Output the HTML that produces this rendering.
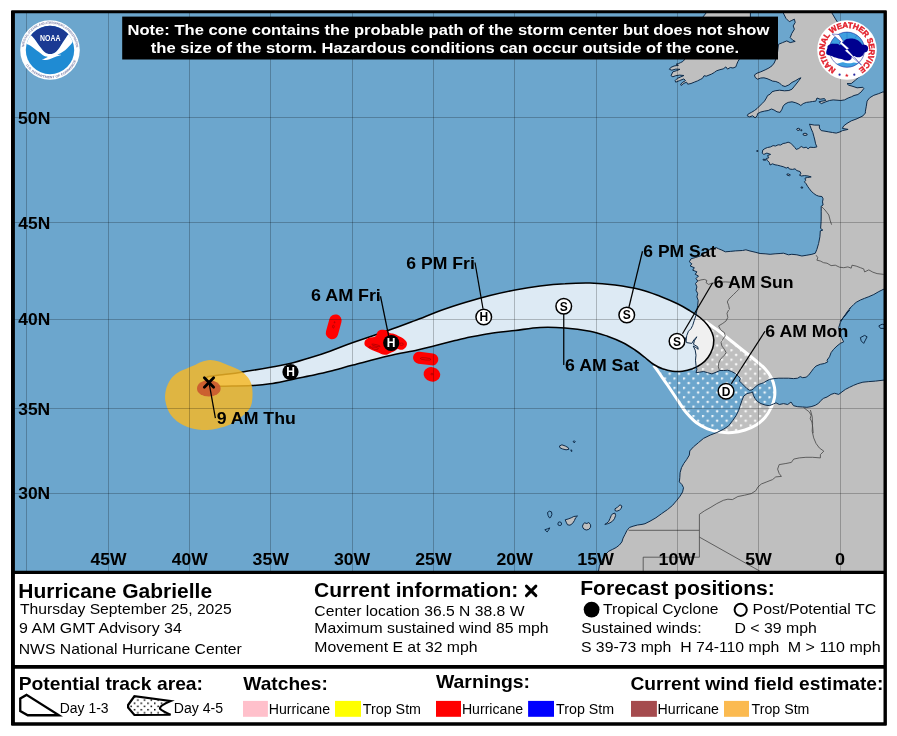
<!DOCTYPE html>
<html><head><meta charset="utf-8"><title>Hurricane Gabrielle</title>
<style>
html,body{margin:0;padding:0;background:#fff;}
body{width:897px;height:736px;overflow:hidden;font-family:"Liberation Sans",sans-serif;}
svg{display:block;font-family:"Liberation Sans",sans-serif;}
.b{font-weight:bold}
svg{will-change:transform;}
</style></head><body>
<svg width="897" height="736" viewBox="0 0 897 736">
<defs>
<clipPath id="mapclip"><rect x="13" y="12" width="872" height="560.5"/></clipPath>
<pattern id="dots" x="673.4" y="377.4" width="9.5" height="9.4" patternUnits="userSpaceOnUse"><circle cx="1" cy="1" r="1.35" fill="#fff" fill-opacity="0.85"/><circle cx="5.75" cy="5.7" r="1.35" fill="#fff" fill-opacity="0.85"/></pattern>
</defs>
<rect x="0" y="0" width="897" height="736" fill="#fff"/>
<g clip-path="url(#mapclip)">
<rect x="13" y="12" width="872" height="560" fill="#6ca6cd"/>
<path d="M706.5 12.5L695.2 26.7L688.5 43.4L684.4 59.8L682.8 61.5L680.6 62.6L678.4 63.6L676.2 64.2L678.4 65.3L674.0 66.0L670.7 67.5L669.4 69.3L671.8 70.2L675.7 69.1L680.0 69.3L676.2 70.8L672.9 71.8L671.8 74.0L671.0 75.7L672.9 76.8L675.7 75.7L679.5 75.1L683.9 75.5L680.6 77.0L677.3 78.4L675.1 80.6L675.7 82.2L679.5 80.6L683.9 78.9L685.5 80.6L682.8 82.2L680.6 84.2L681.1 85.5L683.9 83.3L686.6 82.2L687.7 84.2L691.0 83.5L694.2 82.2L697.5 80.9L700.2 79.5L702.4 78.4L704.1 75.7L706.2 76.2L709.0 75.1L711.7 74.0L714.4 72.4L716.6 70.8L719.9 69.7L723.2 68.9L725.9 66.9L727.5 69.1L730.3 67.5L733.0 68.0L735.8 66.9L736.8 64.2L737.9 61.5L739.0 59.8L742.0 51.8L747.0 35.1L750.4 20.0L750.4 12.5Z M782.6 11.7L786.0 18.4L789.3 21.7L791.8 20.4L794.4 19.2L795.2 22.5L793.2 25.9L794.4 29.2L791.8 33.4L790.2 37.6L792.7 40.1L795.2 41.4L790.2 42.6L786.8 40.9L782.6 42.6L778.5 44.3L777.6 51.8L775.5 59.9L774.2 63.0L772.0 65.8L768.9 68.0L765.1 69.9L760.8 71.8L757.0 73.2L754.5 74.9L755.1 77.4L757.6 79.2L760.8 78.0L763.9 77.8L767.0 78.6L770.1 79.9L772.6 81.1L775.8 81.5L779.5 83.0L782.0 85.5L785.1 86.5L788.9 84.9L792.0 82.4L795.8 80.5L798.9 78.6L801.0 77.8L798.9 80.5L797.0 83.0L794.5 86.1L792.0 89.2L788.9 90.5L784.5 90.8L779.5 90.2L775.1 90.8L772.0 91.8L770.1 94.2L767.6 95.5L766.4 98.0L764.5 101.1L762.0 103.6L759.5 106.1L757.0 108.6L754.5 110.5L751.4 112.4L748.2 114.0L747.2 115.8L749.5 116.8L752.6 115.8L755.1 117.8L757.0 116.1L757.6 113.6L760.8 112.0L764.5 111.1L768.2 110.5L771.4 109.0L773.9 109.9L777.0 111.8L780.1 112.4L782.0 109.2L783.2 106.1L785.1 104.0L788.2 102.4L792.0 101.8L795.8 102.8L798.9 104.2L800.8 105.5L803.2 103.6L806.4 102.4L809.5 102.0L812.6 101.5L815.8 101.1L817.0 98.0L820.1 99.2L824.5 98.6L825.8 100.5L822.0 101.1L818.9 101.8L821.4 103.6L825.8 101.8L829.5 100.5L833.2 99.9L837.0 100.2L840.8 100.5L844.5 99.9L848.2 98.0L851.4 96.8L854.0 95.5L857.9 94.5L861.2 91.9L863.8 88.6L862.9 87.3L857.1 87.8L852.0 86.1L848.7 85.2L847.0 83.6L851.2 83.6L855.4 80.2L857.1 78.6L863.8 73.5L868.8 65.2L870.4 53.5L867.1 43.4L860.4 35.1L848.7 31.7L840.3 26.7L836.1 20.0L831.1 11.7Z M890.0 92.0L883.0 92.0L883.0 91.9L878.8 93.6L873.8 95.3L869.6 97.8L867.1 101.1L866.3 106.2L865.4 111.2L865.4 113.0L862.9 115.9L857.1 118.7L851.2 120.9L847.0 123.4L843.7 125.9L842.3 128.4L848.1 129.4L842.5 130.6L840.0 131.9L836.2 133.1L832.5 132.5L828.8 131.9L825.0 131.2L821.2 130.6L819.4 128.1L819.4 125.1L814.4 125.1L809.4 124.2L810.0 125.6L811.2 128.8L812.8 132.5L813.8 136.2L814.8 140.0L815.6 143.8L816.9 146.9L813.8 147.5L810.0 147.2L808.1 148.8L806.2 147.2L803.8 147.8L801.2 146.5L798.8 148.5L796.2 149.4L794.8 147.5L792.5 145.0L790.6 143.1L788.1 142.2L785.6 143.1L783.1 143.5L780.6 145.0L778.1 144.8L775.6 146.0L773.1 145.6L770.6 146.9L767.5 147.5L765.0 148.5L762.8 150.0L762.2 153.1L763.8 154.4L766.9 153.1L770.6 154.4L767.5 155.6L768.8 157.8L766.2 158.5L767.5 160.6L769.4 162.5L770.0 165.0L772.5 163.8L775.0 164.8L777.5 165.2L780.6 166.0L783.8 166.9L786.2 168.1L788.1 167.2L789.4 169.0L792.5 169.4L795.0 168.8L796.9 170.6L800.0 171.5L801.0 173.8L799.4 175.0L801.2 176.0L804.4 175.6L808.1 176.0L811.2 176.9L807.5 177.5L805.0 178.1L805.6 180.6L804.4 181.9L806.2 183.8L807.5 186.2L809.4 188.8L811.2 191.2L813.8 193.5L816.2 195.2L818.8 196.2L821.9 196.5L823.1 198.8L822.5 201.9L823.1 205.0L821.2 206.2L821.2 211.2L821.2 217.0L821.1 221.7L820.6 228.4L822.8 230.1L820.3 230.9L819.9 236.8L818.6 243.5L816.9 249.3L815.3 253.2L811.9 254.3L806.9 255.2L801.9 256.0L796.9 254.8L791.8 254.3L788.5 254.8L783.5 253.2L780.1 253.5L775.1 253.8L770.1 254.3L765.1 253.8L760.1 253.5L755.1 252.2L750.0 251.0L745.9 249.8L742.5 250.5L735.3 250.9L730.3 251.4L725.3 251.8L721.9 250.1L718.6 248.8L716.1 247.6L710.2 249.3L705.2 252.6L700.2 256.0L695.2 257.6L691.0 258.8L689.3 261.8L691.8 263.8L690.2 266.0L694.3 267.7L692.7 270.2L696.9 271.8L695.2 274.3L698.5 276.0L696.0 278.5L697.7 281.0L695.5 283.5L696.9 286.9L696.0 290.2L697.7 293.6L696.9 296.9L698.2 300.3L697.7 305.3L696.9 310.3L696.0 315.3L694.3 320.3L692.7 325.4L691.0 328.7L688.5 331.2L686.8 335.4L686.0 340.4L685.2 337.6L686.5 342.6L691.8 343.4L694.3 339.3L696.9 336.8L694.3 340.9L693.5 344.3L697.7 346.8L698.2 349.3L696.0 347.6L693.2 346.0L695.2 350.1L696.0 355.2L695.5 360.2L696.0 365.2L696.9 369.4L696.0 372.7L699.4 372.2L703.5 371.5L707.7 372.7L711.9 373.9L716.1 372.2L719.9 370.5L723.6 370.5L727.8 370.2L731.6 371.5L735.3 373.5L738.3 376.1L740.3 378.6L739.5 381.1L742.0 383.6L744.5 386.1L747.0 388.6L749.5 390.3L752.0 389.9L753.7 388.6L756.2 386.1L758.7 384.4L761.2 383.6L763.7 382.7L766.3 381.1L769.6 379.4L773.8 378.6L778.8 378.2L783.8 378.2L788.5 378.2L793.5 378.6L797.7 378.2L800.2 376.6L802.7 377.7L806.1 377.2L808.6 375.2L811.1 371.9L813.6 368.5L816.1 366.0L820.3 364.3L824.4 363.5L827.8 361.8L827.0 360.2L829.5 356.8L831.1 352.6L833.6 349.3L837.0 346.0L840.3 343.4L843.7 341.8L842.8 340.1L841.2 336.8L839.5 332.6L838.7 327.6L840.3 322.5L842.8 318.4L846.2 314.2L849.5 310.0L840.3 321.2L843.7 317.1L847.0 312.0L850.4 307.9L849.5 308.7L851.2 307.0L853.7 304.5L856.2 302.3L860.4 300.0L864.6 298.3L868.8 296.7L873.8 294.5L878.8 291.6L883.0 289.5L890.5 287.0Z M890.0 380.0L883.0 380.2L875.5 381.1L868.8 381.6L862.9 382.2L857.9 383.6L853.7 385.3L849.5 387.3L845.4 389.4L842.0 391.9L838.7 394.4L834.5 393.3L831.1 394.4L827.0 397.0L823.6 398.3L821.1 400.3L818.6 403.3L815.3 405.3L811.1 406.7L806.9 407.3L802.7 407.0L797.7 406.7L793.5 405.7L791.0 402.0L787.7 404.5L783.5 403.6L779.3 404.5L776.0 402.8L773.4 404.0L769.3 405.7L765.1 405.0L760.9 403.6L757.6 401.6L755.1 398.6L753.4 395.3L752.5 391.9L750.4 392.8L747.0 393.6L743.7 396.1L742.0 400.3L740.3 405.3L738.7 410.3L736.2 415.4L732.8 420.4L728.6 425.9L723.6 429.2L716.9 432.5L710.2 435.1L703.5 438.4L698.5 442.6L693.5 446.8L689.8 450.9L689.3 455.1L686.8 459.3L683.8 463.5L681.5 467.7L680.1 472.7L679.8 477.7L679.3 481.9L681.8 484.4L683.5 487.7L682.6 491.9L680.1 496.1L676.8 500.3L672.6 505.3L667.6 509.5L661.7 513.6L655.9 517.8L650.0 521.2L645.0 523.7L642.0 524.4L637.5 525.0L633.1 526.2L629.4 527.5L626.9 530.6L625.0 534.4L623.1 538.1L621.9 541.9L619.4 545.0L616.2 547.5L612.5 549.4L608.8 551.2L606.2 553.8L603.8 557.5L601.2 561.9L599.4 566.2L598.5 571.2L598.1 577.5L890.0 580.0Z M565.2 519.8L568.1 519.0L571.2 517.8L573.8 516.5L577.5 516.0L575.6 517.8L574.4 520.6L572.5 523.5L570.0 525.2L567.5 524.8L566.2 522.2Z M582.8 525.0L584.4 522.8L586.9 523.5L588.8 522.5L590.6 524.8L590.6 527.2L588.8 529.4L586.2 530.0L583.8 529.0L582.5 526.9Z M612.5 513.8L615.0 513.1L615.6 515.6L614.4 518.8L612.5 521.2L610.0 522.8L607.5 523.8L604.8 524.4L606.9 523.1L608.8 521.2L610.0 518.5L611.2 515.6Z M615.0 508.8L617.5 507.2L620.0 504.8L621.9 506.0L621.2 508.5L619.4 510.2L616.9 511.2L615.0 510.6Z M559.4 446.0L561.9 444.8L565.3 446.0L568.3 447.7L568.9 449.3L566.1 449.8L562.7 449.0L560.2 448.0Z M803.1 133.8L805.0 133.2L806.9 133.8L807.2 135.0L805.0 135.5L803.2 135.0Z M796.6 129.0L798.1 128.2L799.8 128.8L799.4 130.2L797.5 130.5Z M800.8 129.8L801.8 129.8L801.8 130.8L800.9 130.8Z M786.9 174.0L788.8 174.0L790.4 175.0L789.4 175.8L787.2 175.2Z M801.0 187.0L802.5 187.0L802.8 188.0L801.2 188.1Z M756.8 150.5L757.8 150.5L757.8 151.5L756.8 151.5Z M763.1 159.2L765.6 159.5L765.8 160.2L763.2 160.1Z" fill="#bfbfbf" stroke="none"/>
<path d="M653.8 365.5 C654.6 366.7 656.5 369.2 658.8 372.5 C661.0 375.8 664.4 380.4 667.5 385.0 C670.6 389.6 674.4 395.4 677.5 400.0 C680.6 404.6 683.1 408.8 686.2 412.5 C689.4 416.2 692.7 419.8 696.2 422.5 C699.8 425.2 703.5 427.2 707.5 428.8 C711.5 430.3 715.8 431.4 720.0 432.0 C724.2 432.6 728.3 432.8 732.5 432.5 C736.7 432.2 741.0 431.2 745.0 430.0 C749.0 428.8 752.9 427.1 756.2 425.0 C759.6 422.9 762.5 420.4 765.0 417.5 C767.5 414.6 769.7 410.8 771.2 407.5 C772.8 404.2 774.0 400.8 774.5 397.5 C775.0 394.2 775.0 390.8 774.5 387.5 C774.0 384.2 772.8 380.6 771.2 377.5 C769.7 374.4 767.7 371.7 765.0 368.8 C762.3 365.8 758.8 363.1 755.0 360.0 C751.2 356.9 746.7 353.3 742.5 350.0 C738.3 346.7 734.2 343.3 730.0 340.0 C725.8 336.7 721.7 333.1 717.5 330.0 C713.3 326.9 707.1 322.7 705.0 321.2" fill="none" stroke="#fff" stroke-width="3" stroke-linejoin="round"/>
<mask id="m45" maskUnits="userSpaceOnUse" x="600" y="280" width="220" height="180"><path d="M653.8 365.5 C654.6 366.7 656.5 369.2 658.8 372.5 C661.0 375.8 664.4 380.4 667.5 385.0 C670.6 389.6 674.4 395.4 677.5 400.0 C680.6 404.6 683.1 408.8 686.2 412.5 C689.4 416.2 692.7 419.8 696.2 422.5 C699.8 425.2 703.5 427.2 707.5 428.8 C711.5 430.3 715.8 431.4 720.0 432.0 C724.2 432.6 728.3 432.8 732.5 432.5 C736.7 432.2 741.0 431.2 745.0 430.0 C749.0 428.8 752.9 427.1 756.2 425.0 C759.6 422.9 762.5 420.4 765.0 417.5 C767.5 414.6 769.7 410.8 771.2 407.5 C772.8 404.2 774.0 400.8 774.5 397.5 C775.0 394.2 775.0 390.8 774.5 387.5 C774.0 384.2 772.8 380.6 771.2 377.5 C769.7 374.4 767.7 371.7 765.0 368.8 C762.3 365.8 758.8 363.1 755.0 360.0 C751.2 356.9 746.7 353.3 742.5 350.0 C738.3 346.7 734.2 343.3 730.0 340.0 C725.8 336.7 721.7 333.1 717.5 330.0 C713.3 326.9 707.1 322.7 705.0 321.2 L690 340 L670 350 Z" fill="#fff"/><path d="M205.5 382.0 C205.4 381.0 205.6 379.7 206.2 378.8 C206.8 377.9 205.8 377.3 208.8 376.6 C211.8 375.9 218.6 375.2 224.0 374.5 C229.4 373.8 233.2 373.5 241.2 372.2 C249.2 371.0 263.9 368.4 272.0 366.9 C280.1 365.4 283.7 365.0 290.0 363.5 C296.3 362.0 303.3 359.9 310.0 357.8 C316.7 355.8 322.8 353.8 330.0 351.2 C337.2 348.6 343.3 345.9 353.0 342.5 C362.7 339.1 377.7 334.2 388.0 330.6 C398.3 327.0 406.3 323.9 415.0 320.6 C423.7 317.3 431.7 313.8 440.0 310.8 C448.3 307.7 456.7 305.0 465.0 302.5 C473.3 300.0 481.7 297.6 490.0 295.5 C498.3 293.4 506.7 291.6 515.0 290.0 C523.3 288.4 531.7 287.0 540.0 286.0 C548.3 285.0 556.7 284.2 565.0 283.8 C573.3 283.2 581.7 282.8 590.0 283.0 C598.3 283.2 606.7 283.9 615.0 285.0 C623.3 286.1 632.5 287.6 640.0 289.5 C647.5 291.4 653.8 293.9 660.0 296.2 C666.2 298.6 672.5 301.3 677.5 303.8 C682.5 306.2 686.2 308.5 690.0 310.8 C693.8 313.0 697.1 315.1 700.0 317.5 C702.9 319.9 705.5 322.5 707.5 325.0 C709.5 327.5 711.0 330.0 712.0 332.5 C713.0 335.0 713.7 337.3 713.8 340.0 C713.8 342.7 713.5 345.8 712.5 348.8 C711.5 351.7 709.9 354.9 708.0 357.5 C706.1 360.1 703.8 362.4 701.2 364.2 C698.7 366.1 695.6 367.6 692.5 368.8 C689.4 369.9 685.8 370.8 682.5 371.2 C679.2 371.7 675.8 371.7 672.5 371.2 C669.2 370.8 665.6 369.9 662.5 368.8 C659.4 367.6 656.7 366.4 653.8 364.5 C650.8 362.6 648.1 359.9 645.0 357.5 C641.9 355.1 638.8 352.5 635.0 350.0 C631.2 347.5 627.1 344.8 622.5 342.5 C617.9 340.2 612.9 338.1 607.5 336.2 C602.1 334.4 597.1 332.6 590.0 331.2 C582.9 329.9 573.3 328.6 565.0 328.0 C556.7 327.4 548.3 327.1 540.0 327.5 C531.7 327.9 523.3 329.5 515.0 330.5 C506.7 331.5 498.3 332.1 490.0 333.4 C481.7 334.7 470.8 337.1 465.0 338.2 C459.2 339.4 460.2 339.3 455.0 340.6 C449.8 341.9 440.0 344.4 433.8 346.0 C427.5 347.6 425.1 348.3 417.5 350.0 C409.9 351.7 398.8 353.5 388.0 356.0 C377.2 358.5 362.7 362.5 353.0 365.0 C343.3 367.5 337.2 369.5 330.0 371.2 C322.8 373.0 316.7 374.3 310.0 375.8 C303.3 377.2 296.7 378.7 290.0 380.0 C283.3 381.3 276.5 382.8 270.0 383.8 C263.5 384.7 257.6 385.2 251.2 385.6 C244.9 386.0 237.2 386.0 232.0 386.1 C226.8 386.2 223.7 386.1 220.0 386.2 C216.3 386.2 212.2 386.6 210.0 386.4 C207.8 386.2 207.2 385.7 206.5 385.0 C205.8 384.3 205.6 383.0 205.5 382.0Z" fill="#000"/></mask>
<rect x="640" y="310" width="150" height="135" fill="url(#dots)" mask="url(#m45)"/>
<path d="M205.5 382.0 C205.4 381.0 205.6 379.7 206.2 378.8 C206.8 377.9 205.8 377.3 208.8 376.6 C211.8 375.9 218.6 375.2 224.0 374.5 C229.4 373.8 233.2 373.5 241.2 372.2 C249.2 371.0 263.9 368.4 272.0 366.9 C280.1 365.4 283.7 365.0 290.0 363.5 C296.3 362.0 303.3 359.9 310.0 357.8 C316.7 355.8 322.8 353.8 330.0 351.2 C337.2 348.6 343.3 345.9 353.0 342.5 C362.7 339.1 377.7 334.2 388.0 330.6 C398.3 327.0 406.3 323.9 415.0 320.6 C423.7 317.3 431.7 313.8 440.0 310.8 C448.3 307.7 456.7 305.0 465.0 302.5 C473.3 300.0 481.7 297.6 490.0 295.5 C498.3 293.4 506.7 291.6 515.0 290.0 C523.3 288.4 531.7 287.0 540.0 286.0 C548.3 285.0 556.7 284.2 565.0 283.8 C573.3 283.2 581.7 282.8 590.0 283.0 C598.3 283.2 606.7 283.9 615.0 285.0 C623.3 286.1 632.5 287.6 640.0 289.5 C647.5 291.4 653.8 293.9 660.0 296.2 C666.2 298.6 672.5 301.3 677.5 303.8 C682.5 306.2 686.2 308.5 690.0 310.8 C693.8 313.0 697.1 315.1 700.0 317.5 C702.9 319.9 705.5 322.5 707.5 325.0 C709.5 327.5 711.0 330.0 712.0 332.5 C713.0 335.0 713.7 337.3 713.8 340.0 C713.8 342.7 713.5 345.8 712.5 348.8 C711.5 351.7 709.9 354.9 708.0 357.5 C706.1 360.1 703.8 362.4 701.2 364.2 C698.7 366.1 695.6 367.6 692.5 368.8 C689.4 369.9 685.8 370.8 682.5 371.2 C679.2 371.7 675.8 371.7 672.5 371.2 C669.2 370.8 665.6 369.9 662.5 368.8 C659.4 367.6 656.7 366.4 653.8 364.5 C650.8 362.6 648.1 359.9 645.0 357.5 C641.9 355.1 638.8 352.5 635.0 350.0 C631.2 347.5 627.1 344.8 622.5 342.5 C617.9 340.2 612.9 338.1 607.5 336.2 C602.1 334.4 597.1 332.6 590.0 331.2 C582.9 329.9 573.3 328.6 565.0 328.0 C556.7 327.4 548.3 327.1 540.0 327.5 C531.7 327.9 523.3 329.5 515.0 330.5 C506.7 331.5 498.3 332.1 490.0 333.4 C481.7 334.7 470.8 337.1 465.0 338.2 C459.2 339.4 460.2 339.3 455.0 340.6 C449.8 341.9 440.0 344.4 433.8 346.0 C427.5 347.6 425.1 348.3 417.5 350.0 C409.9 351.7 398.8 353.5 388.0 356.0 C377.2 358.5 362.7 362.5 353.0 365.0 C343.3 367.5 337.2 369.5 330.0 371.2 C322.8 373.0 316.7 374.3 310.0 375.8 C303.3 377.2 296.7 378.7 290.0 380.0 C283.3 381.3 276.5 382.8 270.0 383.8 C263.5 384.7 257.6 385.2 251.2 385.6 C244.9 386.0 237.2 386.0 232.0 386.1 C226.8 386.2 223.7 386.1 220.0 386.2 C216.3 386.2 212.2 386.6 210.0 386.4 C207.8 386.2 207.2 385.7 206.5 385.0 C205.8 384.3 205.6 383.0 205.5 382.0Z" fill="#fff" fill-opacity="0.77" stroke="#000" stroke-width="1.55" stroke-linejoin="round"/>
<path d="M210.0 360.0 C212.9 359.9 215.8 360.7 218.8 361.5 C221.7 362.3 224.8 363.9 227.5 365.0 C230.2 366.1 232.7 367.1 235.0 368.1 C237.3 369.1 239.2 369.8 241.2 371.2 C243.3 372.7 245.8 374.8 247.5 376.9 C249.2 379.0 250.4 381.1 251.2 383.8 C252.1 386.4 252.4 389.4 252.5 392.5 C252.6 395.6 252.4 399.8 251.9 402.5 C251.4 405.2 250.6 406.9 249.4 408.8 C248.2 410.6 247.0 411.9 245.0 413.8 C243.0 415.6 240.4 418.0 237.5 420.0 C234.6 422.0 230.8 424.2 227.5 425.6 C224.2 427.0 220.8 427.8 217.5 428.5 C214.2 429.2 210.8 429.9 207.5 430.0 C204.2 430.1 200.8 429.9 197.5 429.4 C194.2 428.9 190.6 428.0 187.5 426.9 C184.4 425.8 181.3 424.3 178.8 422.5 C176.2 420.7 173.8 418.5 171.9 416.2 C170.0 414.0 168.6 411.5 167.5 408.8 C166.4 406.0 165.6 402.9 165.2 400.0 C164.9 397.1 165.1 394.0 165.6 391.2 C166.1 388.5 166.9 386.1 168.1 383.8 C169.2 381.4 170.7 378.9 172.5 376.9 C174.3 374.9 176.5 373.3 178.8 371.9 C181.0 370.5 183.8 369.8 186.2 368.8 C188.8 367.7 191.2 366.7 193.8 365.6 C196.2 364.5 198.5 362.8 201.2 361.9 C204.0 361.0 207.1 360.1 210.0 360.0Z" fill="#f7b825" fill-opacity="0.83"/>
<ellipse cx="208.8" cy="388.4" rx="11.8" ry="8.2" fill="#c9562f" fill-opacity="0.9"/>
<g fill="#ff0000" stroke="#ff0000" stroke-linecap="round"><line x1="335.4" y1="320.6" x2="332" y2="333" stroke-width="12.4"/><path d="M364.4 343.2 C364.4 342.5 364.6 341.5 365.0 340.8 C365.4 340.0 366.0 339.4 366.9 338.9 C367.7 338.4 368.9 337.9 370.0 337.6 C371.1 337.3 372.7 337.4 373.8 337.0 C374.8 336.6 375.7 336.2 376.2 335.4 C376.8 334.7 376.8 333.4 377.2 332.6 C377.6 331.8 378.0 331.2 378.8 330.8 C379.5 330.3 380.5 329.9 381.6 329.8 C382.6 329.7 384.0 329.8 385.0 330.0 C386.0 330.2 386.8 330.6 387.5 331.1 C388.2 331.6 388.5 332.5 389.4 332.9 C390.2 333.4 391.1 333.1 392.5 333.6 C393.9 334.0 396.0 334.8 397.5 335.4 C399.0 336.1 400.1 336.6 401.2 337.3 C402.4 338.0 403.5 338.7 404.4 339.5 C405.3 340.3 406.1 341.1 406.6 342.0 C407.0 342.9 407.0 343.9 406.9 344.8 C406.7 345.8 406.2 346.8 405.6 347.6 C405.0 348.4 404.1 349.1 403.1 349.5 C402.2 349.9 400.9 349.9 400.0 349.8 C399.1 349.7 398.3 348.7 397.5 348.9 C396.7 349.0 396.0 350.1 395.0 350.8 C394.0 351.4 392.5 352.0 391.2 352.6 C390.0 353.2 388.6 354.1 387.5 354.5 C386.4 354.9 385.4 354.9 384.4 354.8 C383.3 354.7 382.4 354.3 381.2 353.9 C380.1 353.5 378.8 352.8 377.5 352.3 C376.2 351.8 375.0 351.3 373.8 350.8 C372.5 350.2 371.1 349.5 370.0 348.9 C368.9 348.2 367.7 347.6 366.9 347.0 C366.0 346.4 365.4 346.1 365.0 345.4 C364.6 344.8 364.4 344.0 364.4 343.2Z" stroke="none"/><line x1="419" y1="357.7" x2="432.3" y2="359.4" stroke-width="12"/><ellipse cx="431.9" cy="374.4" rx="8.4" ry="7.2" stroke="none" transform="rotate(15 431.9 374.4)"/></g>
<g fill="none" stroke="#7a0000" stroke-width="0.45"><ellipse cx="425.6" cy="358.9" rx="5.4" ry="1.1" transform="rotate(6 425.6 358.9)"/><ellipse cx="431.9" cy="374.1" rx="1.2" ry="0.8"/><ellipse cx="376" cy="345.4" rx="4.4" ry="0.8" transform="rotate(14 376 345.4)"/><ellipse cx="375" cy="348.3" rx="3.4" ry="1.1" transform="rotate(10 375 348.3)"/><ellipse cx="370" cy="347.2" rx="1" ry="0.9"/><ellipse cx="401.5" cy="344.2" rx="2" ry="1.2"/><ellipse cx="392.5" cy="338.5" rx="0.9" ry="0.8"/><ellipse cx="333.4" cy="326.6" rx="0.9" ry="1.4"/><ellipse cx="334.6" cy="322.3" rx="0.5" ry="0.6"/></g>
<path d="M706.5 12.5L695.2 26.7L688.5 43.4L684.4 59.8L682.8 61.5L680.6 62.6L678.4 63.6L676.2 64.2L678.4 65.3L674.0 66.0L670.7 67.5L669.4 69.3L671.8 70.2L675.7 69.1L680.0 69.3L676.2 70.8L672.9 71.8L671.8 74.0L671.0 75.7L672.9 76.8L675.7 75.7L679.5 75.1L683.9 75.5L680.6 77.0L677.3 78.4L675.1 80.6L675.7 82.2L679.5 80.6L683.9 78.9L685.5 80.6L682.8 82.2L680.6 84.2L681.1 85.5L683.9 83.3L686.6 82.2L687.7 84.2L691.0 83.5L694.2 82.2L697.5 80.9L700.2 79.5L702.4 78.4L704.1 75.7L706.2 76.2L709.0 75.1L711.7 74.0L714.4 72.4L716.6 70.8L719.9 69.7L723.2 68.9L725.9 66.9L727.5 69.1L730.3 67.5L733.0 68.0L735.8 66.9L736.8 64.2L737.9 61.5L739.0 59.8L742.0 51.8L747.0 35.1L750.4 20.0L750.4 12.5Z M782.6 11.7L786.0 18.4L789.3 21.7L791.8 20.4L794.4 19.2L795.2 22.5L793.2 25.9L794.4 29.2L791.8 33.4L790.2 37.6L792.7 40.1L795.2 41.4L790.2 42.6L786.8 40.9L782.6 42.6L778.5 44.3L777.6 51.8L775.5 59.9L774.2 63.0L772.0 65.8L768.9 68.0L765.1 69.9L760.8 71.8L757.0 73.2L754.5 74.9L755.1 77.4L757.6 79.2L760.8 78.0L763.9 77.8L767.0 78.6L770.1 79.9L772.6 81.1L775.8 81.5L779.5 83.0L782.0 85.5L785.1 86.5L788.9 84.9L792.0 82.4L795.8 80.5L798.9 78.6L801.0 77.8L798.9 80.5L797.0 83.0L794.5 86.1L792.0 89.2L788.9 90.5L784.5 90.8L779.5 90.2L775.1 90.8L772.0 91.8L770.1 94.2L767.6 95.5L766.4 98.0L764.5 101.1L762.0 103.6L759.5 106.1L757.0 108.6L754.5 110.5L751.4 112.4L748.2 114.0L747.2 115.8L749.5 116.8L752.6 115.8L755.1 117.8L757.0 116.1L757.6 113.6L760.8 112.0L764.5 111.1L768.2 110.5L771.4 109.0L773.9 109.9L777.0 111.8L780.1 112.4L782.0 109.2L783.2 106.1L785.1 104.0L788.2 102.4L792.0 101.8L795.8 102.8L798.9 104.2L800.8 105.5L803.2 103.6L806.4 102.4L809.5 102.0L812.6 101.5L815.8 101.1L817.0 98.0L820.1 99.2L824.5 98.6L825.8 100.5L822.0 101.1L818.9 101.8L821.4 103.6L825.8 101.8L829.5 100.5L833.2 99.9L837.0 100.2L840.8 100.5L844.5 99.9L848.2 98.0L851.4 96.8L854.0 95.5L857.9 94.5L861.2 91.9L863.8 88.6L862.9 87.3L857.1 87.8L852.0 86.1L848.7 85.2L847.0 83.6L851.2 83.6L855.4 80.2L857.1 78.6L863.8 73.5L868.8 65.2L870.4 53.5L867.1 43.4L860.4 35.1L848.7 31.7L840.3 26.7L836.1 20.0L831.1 11.7Z M890.0 92.0L883.0 92.0L883.0 91.9L878.8 93.6L873.8 95.3L869.6 97.8L867.1 101.1L866.3 106.2L865.4 111.2L865.4 113.0L862.9 115.9L857.1 118.7L851.2 120.9L847.0 123.4L843.7 125.9L842.3 128.4L848.1 129.4L842.5 130.6L840.0 131.9L836.2 133.1L832.5 132.5L828.8 131.9L825.0 131.2L821.2 130.6L819.4 128.1L819.4 125.1L814.4 125.1L809.4 124.2L810.0 125.6L811.2 128.8L812.8 132.5L813.8 136.2L814.8 140.0L815.6 143.8L816.9 146.9L813.8 147.5L810.0 147.2L808.1 148.8L806.2 147.2L803.8 147.8L801.2 146.5L798.8 148.5L796.2 149.4L794.8 147.5L792.5 145.0L790.6 143.1L788.1 142.2L785.6 143.1L783.1 143.5L780.6 145.0L778.1 144.8L775.6 146.0L773.1 145.6L770.6 146.9L767.5 147.5L765.0 148.5L762.8 150.0L762.2 153.1L763.8 154.4L766.9 153.1L770.6 154.4L767.5 155.6L768.8 157.8L766.2 158.5L767.5 160.6L769.4 162.5L770.0 165.0L772.5 163.8L775.0 164.8L777.5 165.2L780.6 166.0L783.8 166.9L786.2 168.1L788.1 167.2L789.4 169.0L792.5 169.4L795.0 168.8L796.9 170.6L800.0 171.5L801.0 173.8L799.4 175.0L801.2 176.0L804.4 175.6L808.1 176.0L811.2 176.9L807.5 177.5L805.0 178.1L805.6 180.6L804.4 181.9L806.2 183.8L807.5 186.2L809.4 188.8L811.2 191.2L813.8 193.5L816.2 195.2L818.8 196.2L821.9 196.5L823.1 198.8L822.5 201.9L823.1 205.0L821.2 206.2L821.2 211.2L821.2 217.0L821.1 221.7L820.6 228.4L822.8 230.1L820.3 230.9L819.9 236.8L818.6 243.5L816.9 249.3L815.3 253.2L811.9 254.3L806.9 255.2L801.9 256.0L796.9 254.8L791.8 254.3L788.5 254.8L783.5 253.2L780.1 253.5L775.1 253.8L770.1 254.3L765.1 253.8L760.1 253.5L755.1 252.2L750.0 251.0L745.9 249.8L742.5 250.5L735.3 250.9L730.3 251.4L725.3 251.8L721.9 250.1L718.6 248.8L716.1 247.6L710.2 249.3L705.2 252.6L700.2 256.0L695.2 257.6L691.0 258.8L689.3 261.8L691.8 263.8L690.2 266.0L694.3 267.7L692.7 270.2L696.9 271.8L695.2 274.3L698.5 276.0L696.0 278.5L697.7 281.0L695.5 283.5L696.9 286.9L696.0 290.2L697.7 293.6L696.9 296.9L698.2 300.3L697.7 305.3L696.9 310.3L696.0 315.3L694.3 320.3L692.7 325.4L691.0 328.7L688.5 331.2L686.8 335.4L686.0 340.4L685.2 337.6L686.5 342.6L691.8 343.4L694.3 339.3L696.9 336.8L694.3 340.9L693.5 344.3L697.7 346.8L698.2 349.3L696.0 347.6L693.2 346.0L695.2 350.1L696.0 355.2L695.5 360.2L696.0 365.2L696.9 369.4L696.0 372.7L699.4 372.2L703.5 371.5L707.7 372.7L711.9 373.9L716.1 372.2L719.9 370.5L723.6 370.5L727.8 370.2L731.6 371.5L735.3 373.5L738.3 376.1L740.3 378.6L739.5 381.1L742.0 383.6L744.5 386.1L747.0 388.6L749.5 390.3L752.0 389.9L753.7 388.6L756.2 386.1L758.7 384.4L761.2 383.6L763.7 382.7L766.3 381.1L769.6 379.4L773.8 378.6L778.8 378.2L783.8 378.2L788.5 378.2L793.5 378.6L797.7 378.2L800.2 376.6L802.7 377.7L806.1 377.2L808.6 375.2L811.1 371.9L813.6 368.5L816.1 366.0L820.3 364.3L824.4 363.5L827.8 361.8L827.0 360.2L829.5 356.8L831.1 352.6L833.6 349.3L837.0 346.0L840.3 343.4L843.7 341.8L842.8 340.1L841.2 336.8L839.5 332.6L838.7 327.6L840.3 322.5L842.8 318.4L846.2 314.2L849.5 310.0L840.3 321.2L843.7 317.1L847.0 312.0L850.4 307.9L849.5 308.7L851.2 307.0L853.7 304.5L856.2 302.3L860.4 300.0L864.6 298.3L868.8 296.7L873.8 294.5L878.8 291.6L883.0 289.5L890.5 287.0Z M890.0 380.0L883.0 380.2L875.5 381.1L868.8 381.6L862.9 382.2L857.9 383.6L853.7 385.3L849.5 387.3L845.4 389.4L842.0 391.9L838.7 394.4L834.5 393.3L831.1 394.4L827.0 397.0L823.6 398.3L821.1 400.3L818.6 403.3L815.3 405.3L811.1 406.7L806.9 407.3L802.7 407.0L797.7 406.7L793.5 405.7L791.0 402.0L787.7 404.5L783.5 403.6L779.3 404.5L776.0 402.8L773.4 404.0L769.3 405.7L765.1 405.0L760.9 403.6L757.6 401.6L755.1 398.6L753.4 395.3L752.5 391.9L750.4 392.8L747.0 393.6L743.7 396.1L742.0 400.3L740.3 405.3L738.7 410.3L736.2 415.4L732.8 420.4L728.6 425.9L723.6 429.2L716.9 432.5L710.2 435.1L703.5 438.4L698.5 442.6L693.5 446.8L689.8 450.9L689.3 455.1L686.8 459.3L683.8 463.5L681.5 467.7L680.1 472.7L679.8 477.7L679.3 481.9L681.8 484.4L683.5 487.7L682.6 491.9L680.1 496.1L676.8 500.3L672.6 505.3L667.6 509.5L661.7 513.6L655.9 517.8L650.0 521.2L645.0 523.7L642.0 524.4L637.5 525.0L633.1 526.2L629.4 527.5L626.9 530.6L625.0 534.4L623.1 538.1L621.9 541.9L619.4 545.0L616.2 547.5L612.5 549.4L608.8 551.2L606.2 553.8L603.8 557.5L601.2 561.9L599.4 566.2L598.5 571.2L598.1 577.5L890.0 580.0Z M860.4 337.6L864.6 335.4L867.1 336.8L865.4 340.1L863.7 343.4L861.2 340.9Z M878.8 325.9L882.1 324.2L885.5 325.1L885.5 328.4L880.5 328.4Z M547.5 512.5L549.4 511.2L551.5 511.9L551.9 514.4L550.6 517.5L549.4 517.8L548.1 515.6Z M544.8 529.8L547.5 528.8L549.8 527.9L548.5 530.2L547.2 531.9L545.6 530.6Z M557.9 523.8L558.5 522.2L559.8 521.9L561.2 522.5L561.6 524.0L560.8 525.4L559.2 525.5L558.1 524.9Z M565.2 519.8L568.1 519.0L571.2 517.8L573.8 516.5L577.5 516.0L575.6 517.8L574.4 520.6L572.5 523.5L570.0 525.2L567.5 524.8L566.2 522.2Z M582.8 525.0L584.4 522.8L586.9 523.5L588.8 522.5L590.6 524.8L590.6 527.2L588.8 529.4L586.2 530.0L583.8 529.0L582.5 526.9Z M612.5 513.8L615.0 513.1L615.6 515.6L614.4 518.8L612.5 521.2L610.0 522.8L607.5 523.8L604.8 524.4L606.9 523.1L608.8 521.2L610.0 518.5L611.2 515.6Z M615.0 508.8L617.5 507.2L620.0 504.8L621.9 506.0L621.2 508.5L619.4 510.2L616.9 511.2L615.0 510.6Z M559.4 446.0L561.9 444.8L565.3 446.0L568.3 447.7L568.9 449.3L566.1 449.8L562.7 449.0L560.2 448.0Z M573.1 441.5L574.4 440.8L575.3 441.8L574.1 442.8Z M570.9 449.8L571.8 450.2L571.8 451.5L571.1 451.2Z M803.1 133.8L805.0 133.2L806.9 133.8L807.2 135.0L805.0 135.5L803.2 135.0Z M796.6 129.0L798.1 128.2L799.8 128.8L799.4 130.2L797.5 130.5Z M800.8 129.8L801.8 129.8L801.8 130.8L800.9 130.8Z M786.9 174.0L788.8 174.0L790.4 175.0L789.4 175.8L787.2 175.2Z M801.0 187.0L802.5 187.0L802.8 188.0L801.2 188.1Z M756.8 150.5L757.8 150.5L757.8 151.5L756.8 151.5Z M763.1 159.2L765.6 159.5L765.8 160.2L763.2 160.1Z" fill="none" stroke="#0e2a48" stroke-width="1" stroke-linejoin="round"/>
<path d="M821.2 206.2L823.1 208.1L825.0 210.0L826.9 212.5L828.8 215.0L830.3 220.9L831.6 224.7 M816.1 255.2L817.8 257.7L816.9 260.2L820.3 261.0L823.6 262.7L827.0 263.2L831.1 265.6L835.3 265.2L839.5 267.2L843.7 267.7L847.9 266.9L851.2 268.2L852.0 265.2L856.2 266.1L860.4 267.7L863.7 268.9L864.6 271.9L868.8 269.9L872.9 272.2L877.1 273.6L883.8 274.4 M697.7 281.0L701.0 279.9L704.4 279.4L706.9 280.5L706.1 282.7L708.6 284.4L711.9 283.2L716.1 282.7L720.3 282.2L725.3 281.9L730.3 282.2L733.6 283.2L737.0 284.4L739.5 286.9L738.7 289.4L736.2 291.9L733.6 294.4L731.1 296.9L728.6 299.4L727.3 301.9L728.6 305.3L729.5 309.5 M728.6 310.0L727.0 313.3L727.8 317.5L726.1 320.9L722.8 323.4L718.6 325.9L720.3 329.2L721.9 330.9L724.4 332.6L725.3 335.9L722.8 339.3L721.1 342.6L721.9 346.0L724.4 349.3L726.1 352.6L724.4 355.2L721.9 357.7L719.9 360.2L718.6 363.5L718.3 366.9L719.4 370.2 M803.5 407.3L806.1 409.5L809.4 412.0L811.1 415.4L810.2 418.7L811.9 422.0L812.7 427.1L813.2 433.1 M810.4 410.0L812.2 416.7L812.6 423.4L812.2 431.2L813.7 437.9L816.0 443.4L819.3 447.9L823.8 451.2L820.4 454.6L820.4 457.9L812.6 457.3L805.9 457.3L799.3 457.9L793.7 459.1L791.4 462.4L785.9 463.5L779.2 464.6L777.6 469.1L779.2 473.5L781.4 476.4L775.8 476.9L772.5 479.6L766.9 481.8L761.3 484.0L758.0 486.9L755.8 490.7L751.3 493.6L744.6 495.2L737.9 496.5L732.4 499.6L727.9 499.2L723.4 500.3L716.8 503.6L710.1 507.7L704.5 510.8L699.4 514.3L699.4 530.4L699.4 557.2L643.2 557.2L643.2 575.0 M628.6 530.3L699.6 530.3 M699.4 537.1L758.0 570.1L765.8 575.0" fill="none" stroke="#454545" stroke-width="0.8" stroke-linejoin="round"/>
<g stroke="#000" stroke-opacity="0.23" stroke-width="1" fill="none"><line x1="26.5" y1="12" x2="26.5" y2="572"/><line x1="108.5" y1="12" x2="108.5" y2="572"/><line x1="189.5" y1="12" x2="189.5" y2="572"/><line x1="270.5" y1="12" x2="270.5" y2="572"/><line x1="352.5" y1="12" x2="352.5" y2="572"/><line x1="433.5" y1="12" x2="433.5" y2="572"/><line x1="514.5" y1="12" x2="514.5" y2="572"/><line x1="596.5" y1="12" x2="596.5" y2="572"/><line x1="677.5" y1="12" x2="677.5" y2="572"/><line x1="758.5" y1="12" x2="758.5" y2="572"/><line x1="840.5" y1="12" x2="840.5" y2="572"/><line x1="13" y1="493.5" x2="885" y2="493.5"/><line x1="13" y1="408.5" x2="885" y2="408.5"/><line x1="13" y1="319.5" x2="885" y2="319.5"/><line x1="13" y1="222.5" x2="885" y2="222.5"/><line x1="13" y1="117.5" x2="885" y2="117.5"/></g>
<g stroke="#000" stroke-width="1.25" fill="none"><line x1="209" y1="382.3" x2="215.4" y2="418.1"/><line x1="380.5" y1="296.25" x2="388.75" y2="336.25"/><line x1="475" y1="262.5" x2="483" y2="308.75"/><line x1="563.75" y1="313.75" x2="563.75" y2="365"/><line x1="642.5" y1="251.25" x2="628.75" y2="308"/><line x1="712.5" y1="283" x2="682.5" y2="333.75"/><line x1="765" y1="331.25" x2="731.25" y2="383.75"/></g>
<circle cx="290.5" cy="372" r="8.1" fill="#000"/><text x="290.5" y="376.25" text-anchor="middle" font-size="12" class="b" fill="#fff">H</text>
<circle cx="391.2" cy="343" r="8.1" fill="#000"/><text x="391.2" y="347.25" text-anchor="middle" font-size="12" class="b" fill="#fff">H</text>
<circle cx="483.75" cy="317" r="7.8" fill="#fff" stroke="#000" stroke-width="1.5"/><text x="483.75" y="321.25" text-anchor="middle" font-size="12" class="b" fill="#000">H</text>
<circle cx="563.75" cy="306.25" r="7.8" fill="#fff" stroke="#000" stroke-width="1.5"/><text x="563.75" y="310.5" text-anchor="middle" font-size="12" class="b" fill="#000">S</text>
<circle cx="626.75" cy="315" r="7.8" fill="#fff" stroke="#000" stroke-width="1.5"/><text x="626.75" y="319.25" text-anchor="middle" font-size="12" class="b" fill="#000">S</text>
<circle cx="677" cy="341.25" r="7.8" fill="#fff" stroke="#000" stroke-width="1.5"/><text x="677" y="345.5" text-anchor="middle" font-size="12" class="b" fill="#000">S</text>
<circle cx="726" cy="391.25" r="7.8" fill="#fff" stroke="#000" stroke-width="1.5"/><text x="726" y="395.5" text-anchor="middle" font-size="12" class="b" fill="#000">D</text>
<path d="M204.35 377.85 L213.65 387.15 M213.65 377.85 L204.35 387.15" stroke="#000" stroke-width="2.8" stroke-linecap="round" fill="none"/>
</g>
<circle cx="50" cy="50" r="29.8" fill="#fff"/>
<defs><clipPath id="noaaclip"><circle cx="50" cy="50" r="24.2"/></clipPath><path id="noaaTop" d="M23.80 50.00 A26.2 26.2 0 0 1 76.20 50.00"/><path id="noaaBot" d="M23.41 59.68 A28.3 28.3 0 0 0 76.59 59.68"/></defs>
<g clip-path="url(#noaaclip)"><rect x="20" y="20" width="60" height="60" fill="#1f8bd3"/>
<path d="M30.8 35.2 C31.4 35.9 33.4 37.6 34.5 39.0 C35.6 40.4 36.6 41.9 37.6 43.4 C38.7 44.8 39.7 46.4 40.8 47.8 C41.8 49.1 42.8 50.6 43.9 51.5 C44.9 52.4 46.0 53.0 47.0 53.4 C48.0 53.8 49.1 53.9 50.1 53.9 C51.2 53.9 52.2 53.8 53.2 53.4 C54.3 53.0 55.3 52.4 56.4 51.5 C57.4 50.6 58.5 49.2 59.5 47.8 C60.5 46.3 61.6 44.4 62.6 42.8 C63.7 41.1 64.8 39.5 65.8 38.1 C66.7 36.7 68.1 34.9 68.6 34.3 L75.8 31.5 L75.8 22.8 L24.5 22.8 L24.5 31.5Z" fill="#1b3a93"/>
<path d="M30.8 35.2 C32.2 36.0 33.4 37.6 34.5 39.0 C35.6 40.4 36.6 41.9 37.6 43.4 C38.7 44.8 39.7 46.4 40.8 47.8 C41.8 49.1 42.8 50.6 43.9 51.5 C44.9 52.4 46.0 53.0 47.0 53.4 C48.0 53.8 49.1 53.9 50.1 53.9 C51.2 53.9 52.2 53.8 53.2 53.4 C54.3 53.0 55.3 52.4 56.4 51.5 C57.4 50.6 58.5 49.2 59.5 47.8 C60.5 46.3 61.6 44.4 62.6 42.8 C63.7 41.1 64.8 39.5 65.8 38.1 C66.7 36.7 67.4 35.2 68.6 34.3 C69.7 33.4 71.1 31.7 72.6 32.8 C74.1 33.8 77.4 39.3 77.6 40.6 C77.9 41.9 75.3 39.9 74.2 40.6 C73.0 41.2 71.9 43.3 70.8 44.6 C69.6 45.9 68.2 47.2 67.0 48.4 C65.8 49.5 64.5 50.6 63.2 51.5 C62.0 52.4 60.5 53.2 59.5 53.7 C58.5 54.2 56.7 54.4 57.0 54.6 C57.3 54.8 61.1 54.7 61.1 54.9 C61.1 55.2 58.3 55.7 57.0 56.2 C55.7 56.7 54.5 57.2 53.2 57.8 C52.0 58.3 50.8 58.9 49.5 59.3 C48.2 59.7 46.9 60.1 45.8 60.1 C44.6 60.2 42.4 59.9 42.3 59.6 C42.2 59.3 44.2 58.7 45.1 58.2 C46.0 57.8 47.5 57.3 47.6 57.0 C47.7 56.7 46.6 56.8 45.8 56.5 C44.9 56.2 43.8 55.7 42.6 54.9 C41.5 54.2 40.2 53.2 38.9 52.1 C37.5 51.1 36.0 49.8 34.5 48.7 C33.0 47.6 31.5 46.3 30.1 45.6 C28.7 44.8 27.3 44.3 26.1 44.0 C24.8 43.7 22.7 45.6 22.6 44.0 C22.6 42.4 24.4 36.1 25.8 34.6 C27.1 33.2 29.3 34.5 30.8 35.2Z" fill="#fff"/></g>
<text x="40.1" y="41.15" font-size="8.2" class="b" fill="#fff" textLength="20.3" lengthAdjust="spacingAndGlyphs">NOAA</text>
<g font-size="3.3" fill="#7a7fa8" class="b"><text><textPath href="#noaaTop" startOffset="3" textLength="76" lengthAdjust="spacingAndGlyphs">NATIONAL OCEANIC AND ATMOSPHERIC ADMINISTRATION</textPath></text><text><textPath href="#noaaBot" startOffset="6" textLength="62" lengthAdjust="spacingAndGlyphs">U.S. DEPARTMENT OF COMMERCE</textPath></text></g>
<circle cx="847" cy="50" r="29.8" fill="#fff"/>
<defs><path id="nwsArc" d="M835.90 69.23 A22.2 22.2 0 1 1 858.10 69.23"/><clipPath id="nwsclip"><circle cx="847" cy="49.7" r="17.6"/></clipPath></defs>
<text font-size="8" class="b" fill="#e2202c" stroke="#e2202c" stroke-width="0.4"><textPath href="#nwsArc" textLength="115.2" lengthAdjust="spacing">NATIONAL WEATHER SERVICE</textPath></text>
<g clip-path="url(#nwsclip)"><rect x="829" y="31" width="36" height="38" fill="#fff"/>
<rect x="829" y="31" width="36" height="19" fill="#3d9fe0"/>
<line x1="841.8" y1="49.0" x2="829.7" y2="42.0" stroke="#2a7cc8" stroke-width="0.6"/>
<line x1="844.0" y1="46.8" x2="837.0" y2="34.7" stroke="#2a7cc8" stroke-width="0.6"/>
<line x1="847.0" y1="46.0" x2="847.0" y2="32.0" stroke="#2a7cc8" stroke-width="0.6"/>
<line x1="850.0" y1="46.8" x2="857.0" y2="34.7" stroke="#2a7cc8" stroke-width="0.6"/>
<line x1="852.2" y1="49.0" x2="864.3" y2="42.0" stroke="#2a7cc8" stroke-width="0.6"/>
<path d="M828.6 63.9 C829.1 62.6 830.5 63.3 831.6 63.3 C832.7 63.3 834.0 63.9 835.2 63.9 C836.4 63.9 837.5 63.5 838.7 63.3 C839.9 63.0 841.1 62.2 842.3 62.2 C843.5 62.1 844.6 62.8 845.9 63.0 C847.2 63.1 848.8 63.4 850.1 63.3 C851.4 63.2 852.5 62.4 853.7 62.4 C854.9 62.3 856.1 63.0 857.3 63.0 C858.5 62.9 859.3 62.1 860.9 62.1 C862.5 62.0 865.8 61.2 866.8 62.7 C867.8 64.2 873.2 69.6 866.8 71.0 C860.5 72.4 835.0 72.2 828.6 71.0 C822.2 69.8 828.1 65.2 828.6 63.9Z" fill="#3d9fe0"/></g>
<circle cx="847" cy="49.7" r="17.6" fill="none" stroke="#1a2a9a" stroke-width="0.6"/>
<path d="M826.2 53.1 C826.1 52.5 826.3 51.5 826.5 50.7 C826.7 49.9 827.2 49.1 827.4 48.3 C827.6 47.5 827.3 46.6 827.7 45.9 C828.0 45.3 828.7 44.8 829.5 44.4 C830.2 44.1 831.2 44.0 832.2 43.8 C833.1 43.7 834.2 43.6 835.2 43.7 C836.2 43.7 837.4 43.9 838.1 44.1 C838.9 44.4 839.2 45.4 839.9 45.3 C840.6 45.2 841.6 44.3 842.3 43.5 C843.0 42.8 843.4 41.6 844.1 40.8 C844.8 40.1 845.5 39.5 846.5 39.1 C847.5 38.7 848.9 38.5 850.1 38.5 C851.3 38.4 852.5 38.5 853.7 38.8 C854.9 39.0 856.2 39.4 857.3 40.0 C858.4 40.5 859.5 41.6 860.3 42.3 C861.1 43.1 861.4 44.0 862.1 44.4 C862.7 44.8 863.6 44.5 864.4 44.7 C865.2 44.9 866.2 45.1 866.8 45.6 C867.5 46.1 868.0 46.9 868.1 47.7 C868.3 48.5 868.0 49.7 867.7 50.4 C867.4 51.1 866.8 51.6 866.2 51.9 C865.7 52.3 864.9 52.0 864.4 52.5 C863.9 53.0 863.8 54.2 863.2 54.9 C862.6 55.6 861.7 56.3 860.9 56.7 C860.1 57.1 859.3 57.2 858.5 57.3 C857.7 57.3 856.8 57.2 856.1 57.0 C855.4 56.8 855.0 56.1 854.3 56.1 C853.6 56.0 852.4 56.2 851.9 56.7 C851.4 57.2 851.8 58.4 851.3 59.1 C850.8 59.7 849.8 60.3 848.9 60.6 C848.0 60.8 846.9 60.8 845.9 60.6 C844.9 60.4 843.9 59.7 842.9 59.4 C841.9 59.1 840.9 59.0 839.9 58.8 C838.9 58.5 837.9 58.1 837.0 57.9 C836.0 57.6 834.9 57.6 834.0 57.3 C833.1 57.0 832.5 56.4 831.6 56.1 C830.7 55.7 829.4 55.4 828.6 55.2 C827.8 54.9 827.2 54.9 826.8 54.6 C826.4 54.2 826.2 53.7 826.2 53.1Z" fill="#00008f"/>
<path d="M832.2 34.0 L839.0 34.5 L843.6 41.6 L842.0 42.2 L849.2 48.6 L847.4 49.4 L861.5 65.1 L844.7 50.6 L846.6 49.6 L839.0 42.8 L841.0 41.9Z" fill="#fff" stroke="#00008f" stroke-width="0.45" stroke-linejoin="miter"/>
<circle cx="839.6" cy="74.7" r="1.1" fill="#2a2aa0"/><circle cx="854.3" cy="74.7" r="1.1" fill="#2a2aa0"/>
<path d="M846.8 73.5 L847.3 74.8 L848.7 74.9 L847.6 75.8 L848.0 77.1 L846.8 76.3 L845.6 77.1 L846.0 75.8 L844.9 74.9 L846.3 74.8Z" fill="#e2202c"/>
<rect x="122.2" y="16.6" width="655.8" height="42.9" fill="#000"/>
<g fill="#000">
<circle cx="591.6" cy="609.6" r="7.9"/>
<circle cx="740.7" cy="609.8" r="6.1" fill="#fff" stroke="#000" stroke-width="2"/>
<path d="M526.4 586.1 L535.9 595.6 M535.9 586.1 L526.4 595.6" stroke="#000" stroke-width="2.9" stroke-linecap="round" fill="none"/>
</g>
<rect x="243" y="700.9" width="24.9" height="15.9" fill="#ffc0cb"/>
<rect x="335" y="700.9" width="26" height="15.9" fill="#ffff00"/>
<rect x="436" y="700.9" width="25" height="15.9" fill="#ff0000"/>
<rect x="528.1" y="700.9" width="25.9" height="15.9" fill="#0000ff"/>
<rect x="631" y="700.9" width="25.9" height="15.9" fill="#a54b4e"/>
<rect x="724" y="700.9" width="25" height="15.9" fill="#fbba50"/>
<path d="M20.25 698.6 L26.5 694.9 L59 715.25 L27.75 715.25 L20.25 711.1 Z" fill="#fff" stroke="#000" stroke-width="2.3" stroke-linejoin="miter"/>
<defs><pattern id="bdots" x="133.75" y="702.5" width="6.75" height="6.4" patternUnits="userSpaceOnUse"><rect x="0" y="0" width="1.5" height="1.5" fill="#000"/><rect x="3.37" y="3.2" width="1.5" height="1.5" fill="#000"/></pattern></defs>
<path d="M128.1 705 L134.4 696.25 L170.6 701 Q158.5 706 160.2 709 Q163 711.5 170.6 714.75 L134.4 715 L128.1 707.5 Z" fill="#fff"/>
<path d="M128.1 705 L134.4 696.25 L170.6 701 Q158.5 706 160.2 709 Q163 711.5 170.6 714.75 L134.4 715 L128.1 707.5 Z" fill="url(#bdots)" stroke="#000" stroke-width="2.2" stroke-linejoin="miter"/>
<text id="h1" x="18.31" y="597.75" font-size="20" class="b" fill="#000" textLength="193.79" lengthAdjust="spacingAndGlyphs">Hurricane Gabrielle</text>
<text id="h2" x="313.98" y="597.1" font-size="20" class="b" fill="#000" textLength="204.37" lengthAdjust="spacingAndGlyphs">Current information:</text>
<text id="h3" x="580.24" y="594.6" font-size="20" class="b" fill="#000" textLength="194.55" lengthAdjust="spacingAndGlyphs">Forecast positions:</text>
<text id="a1" x="19.95" y="613.75" font-size="14.6" fill="#000" textLength="211.83" lengthAdjust="spacingAndGlyphs">Thursday September 25, 2025</text>
<text id="a2" x="19.09" y="632.75" font-size="14.6" fill="#000" textLength="162.73" lengthAdjust="spacingAndGlyphs">9 AM GMT Advisory 34</text>
<text id="a3" x="18.75" y="653.5" font-size="14.6" fill="#000" textLength="223.00" lengthAdjust="spacingAndGlyphs">NWS National Hurricane Center</text>
<text id="b1" x="314.36" y="615.5" font-size="14.6" fill="#000" textLength="210.08" lengthAdjust="spacingAndGlyphs">Center location 36.5 N 38.8 W</text>
<text id="b2" x="314.29" y="632.75" font-size="14.6" fill="#000" textLength="234.33" lengthAdjust="spacingAndGlyphs">Maximum sustained wind 85 mph</text>
<text id="b3" x="314.28" y="651.5" font-size="14.6" fill="#000" textLength="163.36" lengthAdjust="spacingAndGlyphs">Movement E at 32 mph</text>
<text id="c1" x="603.05" y="613.75" font-size="14.6" fill="#000" textLength="115.51" lengthAdjust="spacingAndGlyphs">Tropical Cyclone</text>
<text id="c1b" x="752.64" y="613.75" font-size="14.6" fill="#000" textLength="123.51" lengthAdjust="spacingAndGlyphs">Post/Potential TC</text>
<text id="c2" x="581.35" y="632.75" font-size="14.6" fill="#000" textLength="120.24" lengthAdjust="spacingAndGlyphs">Sustained winds:</text>
<text id="c2b" x="734.53" y="632.75" font-size="14.6" fill="#000" textLength="82.30" lengthAdjust="spacingAndGlyphs">D &lt; 39 mph</text>
<text id="c3" x="580.92" y="651.75" font-size="14.6" fill="#000" textLength="90.49" lengthAdjust="spacingAndGlyphs">S 39-73 mph</text>
<text id="c3b" x="680.29" y="651.75" font-size="14.6" fill="#000" textLength="99.06" lengthAdjust="spacingAndGlyphs">H 74-110 mph</text>
<text id="c3c" x="787.81" y="651.75" font-size="14.6" fill="#000" textLength="92.81" lengthAdjust="spacingAndGlyphs">M &gt; 110 mph</text>
<text id="l1" x="18.66" y="689.9" font-size="19" class="b" fill="#000" textLength="184.36" lengthAdjust="spacingAndGlyphs">Potential track area:</text>
<text id="l2" x="243.35" y="689.9" font-size="19" class="b" fill="#000" textLength="84.44" lengthAdjust="spacingAndGlyphs">Watches:</text>
<text id="l3" x="436.01" y="688" font-size="19" class="b" fill="#000" textLength="94.06" lengthAdjust="spacingAndGlyphs">Warnings:</text>
<text id="l4" x="630.47" y="690.25" font-size="19" class="b" fill="#000" textLength="252.98" lengthAdjust="spacingAndGlyphs">Current wind field estimate:</text>
<text id="d1" x="59.71" y="712.5" font-size="14" fill="#000" textLength="48.89" lengthAdjust="spacingAndGlyphs">Day 1-3</text>
<text id="d2" x="173.77" y="712.5" font-size="14" fill="#000" textLength="49.31" lengthAdjust="spacingAndGlyphs">Day 4-5</text>
<text id="s1" x="268.78" y="713.7" font-size="14" fill="#000" textLength="61.29" lengthAdjust="spacingAndGlyphs">Hurricane</text>
<text id="s2" x="362.76" y="713.7" font-size="14" fill="#000" textLength="58.28" lengthAdjust="spacingAndGlyphs">Trop Stm</text>
<text id="s3" x="461.91" y="713.7" font-size="14" fill="#000" textLength="61.22" lengthAdjust="spacingAndGlyphs">Hurricane</text>
<text id="s4" x="556.09" y="713.7" font-size="14" fill="#000" textLength="57.97" lengthAdjust="spacingAndGlyphs">Trop Stm</text>
<text id="s5" x="657.55" y="713.7" font-size="14" fill="#000" textLength="61.36" lengthAdjust="spacingAndGlyphs">Hurricane</text>
<text id="s6" x="751.62" y="713.7" font-size="14" fill="#000" textLength="57.77" lengthAdjust="spacingAndGlyphs">Trop Stm</text>
<text id="n1" x="127.47" y="34.6" font-size="15.2" class="b" fill="#fff" textLength="641.82" lengthAdjust="spacingAndGlyphs">Note: The cone contains the probable path of the storm center but does not show</text>
<text id="n2" x="150.78" y="53" font-size="15.2" class="b" fill="#fff" textLength="588.43" lengthAdjust="spacingAndGlyphs">the size of the storm. Hazardous conditions can occur outside of the cone.</text>
<text id="lat30" x="18.20" y="499.4" font-size="17" class="b" fill="#000" textLength="32.00" lengthAdjust="spacingAndGlyphs">30N</text>
<text id="lat35" x="18.20" y="415.1" font-size="17" class="b" fill="#000" textLength="32.00" lengthAdjust="spacingAndGlyphs">35N</text>
<text id="lat40" x="18.37" y="325.46" font-size="17" class="b" fill="#000" textLength="31.91" lengthAdjust="spacingAndGlyphs">40N</text>
<text id="lat45" x="18.37" y="229.0" font-size="17" class="b" fill="#000" textLength="31.91" lengthAdjust="spacingAndGlyphs">45N</text>
<text id="lat50" x="18.06" y="123.7" font-size="17" class="b" fill="#000" textLength="32.33" lengthAdjust="spacingAndGlyphs">50N</text>
<text id="lon45" x="90.46" y="565.3" font-size="17" class="b" fill="#000" textLength="36.03" lengthAdjust="spacingAndGlyphs">45W</text>
<text id="lon40" x="171.88" y="565.3" font-size="17" class="b" fill="#000" textLength="35.86" lengthAdjust="spacingAndGlyphs">40W</text>
<text id="lon35" x="252.56" y="565.3" font-size="17" class="b" fill="#000" textLength="36.49" lengthAdjust="spacingAndGlyphs">35W</text>
<text id="lon30" x="334.00" y="565.3" font-size="17" class="b" fill="#000" textLength="36.25" lengthAdjust="spacingAndGlyphs">30W</text>
<text id="lon25" x="415.21" y="565.3" font-size="17" class="b" fill="#000" textLength="36.38" lengthAdjust="spacingAndGlyphs">25W</text>
<text id="lon20" x="496.57" y="565.3" font-size="17" class="b" fill="#000" textLength="36.24" lengthAdjust="spacingAndGlyphs">20W</text>
<text id="lon15" x="577.21" y="565.3" font-size="17" class="b" fill="#000" textLength="36.84" lengthAdjust="spacingAndGlyphs">15W</text>
<text id="lon10" x="658.61" y="565.3" font-size="17" class="b" fill="#000" textLength="36.78" lengthAdjust="spacingAndGlyphs">10W</text>
<text id="lon5" x="745.17" y="565.3" font-size="17" class="b" fill="#000" textLength="26.68" lengthAdjust="spacingAndGlyphs">5W</text>
<text id="lon0" x="835.14" y="565.3" font-size="17" class="b" fill="#000" textLength="10.05" lengthAdjust="spacingAndGlyphs">0</text>
<text id="m1" x="216.78" y="423.6" font-size="16.5" class="b" fill="#000" textLength="79.00" lengthAdjust="spacingAndGlyphs">9 AM Thu</text>
<text id="m2" x="310.98" y="301.3" font-size="16.5" class="b" fill="#000" textLength="69.87" lengthAdjust="spacingAndGlyphs">6 AM Fri</text>
<text id="m3" x="406.33" y="268.5" font-size="16.5" class="b" fill="#000" textLength="68.45" lengthAdjust="spacingAndGlyphs">6 PM Fri</text>
<text id="m4" x="565.03" y="371.25" font-size="16.5" class="b" fill="#000" textLength="74.18" lengthAdjust="spacingAndGlyphs">6 AM Sat</text>
<text id="m5" x="643.33" y="256.6" font-size="16.5" class="b" fill="#000" textLength="72.84" lengthAdjust="spacingAndGlyphs">6 PM Sat</text>
<text id="m6" x="713.84" y="288.3" font-size="16.5" class="b" fill="#000" textLength="79.82" lengthAdjust="spacingAndGlyphs">6 AM Sun</text>
<text id="m7" x="765.32" y="336.6" font-size="16.5" class="b" fill="#000" textLength="82.92" lengthAdjust="spacingAndGlyphs">6 AM Mon</text>
<path fill="#000" fill-rule="evenodd" d="M12 10.3H886 Q886.9 10.3 886.9 11.2V724.85Q886.9 725.75 886 725.75H12Q11 725.75 11 724.85V11.2Q11 10.3 12 10.3Z M14.9 13.25H883.5V570.8H14.9Z M14.9 573.9H883.5V664.9H14.9Z M14.9 668.75H883.5V722.2H14.9Z"/>
</svg></body></html>
